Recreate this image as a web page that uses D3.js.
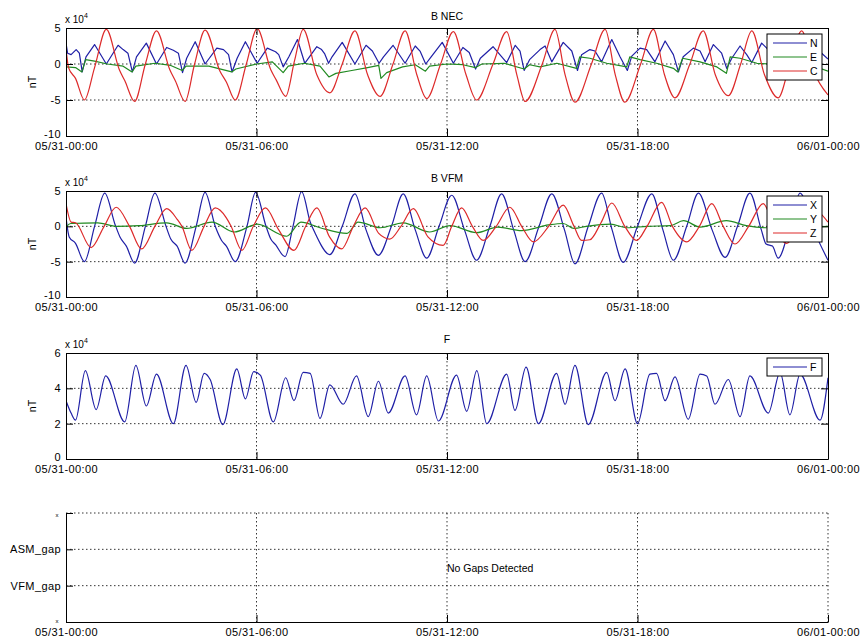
<!DOCTYPE html>
<html lang="en">
<head>
<meta charset="UTF-8">
<title>B NEC / B VFM / F</title>
<style>
    body { margin: 0; background: #fff; }
    svg { font-family: "Liberation Sans", Arial, sans-serif; }
    .tick text { font-size: 11px; letter-spacing: 0.4px; fill: #000; }
    .tick line, .domain { stroke: #000; stroke-width: 1; }
    .grid { stroke: #000; stroke-width: 0.8; stroke-dasharray: 1.5, 2.5; fill: none; }
    .series { fill: none; stroke-width: 1.2; stroke-linejoin: round; }
    .title, .note, .legend text { font-size: 10.5px; fill: #000; }
</style>
</head>
<body>
<svg id="chart" width="864" height="639"></svg>
<script src="https://d3js.org/d3.v7.min.js"></script>
<script>
// time axis (hours from 05/31-00:00)
const xTicks = [0, 6, 12, 18, 24];
const xTickLabels = ["05/31-00:00", "05/31-06:00", "05/31-12:00", "05/31-18:00", "06/01-00:00"];

// values in units of 10^4 nT, [hour, value]
const necN = [[0,2.9],[0.05,1.5],[0.16,1.3],[0.32,2.0],[0.42,1.5],[0.51,-1.1],[0.63,1.0],[0.9,2.7],[1.27,0],[1.64,2.6],[1.8,2.0],[1.95,1.5],[2.09,-1.1],[2.22,1.0],[2.53,2.9],[2.85,0],[3.17,2.3],[3.38,1.9],[3.54,1.5],[3.67,-1.2],[3.8,0.8],[4.07,3.1],[4.38,0],[4.75,2.2],[4.96,2.0],[5.12,1.3],[5.23,-1.1],[5.39,0.8],[5.65,3.1],[6.02,0.1],[6.34,2.2],[6.6,1.7],[6.7,1.3],[6.84,-0.4],[7.02,1.0],[7.29,3.4],[7.52,0.1],[7.9,2.4],[8.05,2.0],[8.15,1.4],[8.27,0.1],[8.38,1.0],[8.7,3.0],[9.1,0],[9.45,2.6],[9.65,1.8],[9.86,0.1],[10.0,1.0],[10.3,2.6],[10.68,0.1],[11.0,2.5],[11.15,1.8],[11.33,0],[11.5,1.0],[11.85,3.0],[12.2,0.1],[12.5,2.3],[12.7,1.6],[12.9,-0.7],[13.05,0.8],[13.45,2.4],[13.88,0.2],[14.15,2.6],[14.3,1.8],[14.43,-0.9],[14.6,0.6],[14.93,2.0],[15.09,2.5],[15.3,0.3],[15.66,3.0],[15.93,1.8],[16.11,-0.9],[16.24,1.3],[16.5,2.0],[16.66,1.8],[16.87,0.3],[17.19,3.4],[17.45,1.0],[17.68,-0.9],[17.82,1.1],[18.08,2.2],[18.29,2.0],[18.55,0.3],[18.87,3.2],[19.13,1.3],[19.29,-1.1],[19.44,1.0],[19.76,2.2],[19.97,1.8],[20.13,0.3],[20.39,2.7],[20.65,1.5],[20.81,-0.6],[20.97,0.8],[21.23,2.5],[21.44,1.3],[21.6,0.2],[21.91,2.9],[22.07,2.2],[22.3,1.0],[22.45,-0.6],[22.6,0.8],[22.85,2.4],[23.17,0.2],[23.5,2.6],[23.8,1.5],[24,0.7]];
const necE = [[0,-0.4],[0.3,-0.5],[0.5,-1.1],[0.62,0.6],[0.9,0.4],[1.3,0],[1.8,-0.3],[2.08,-1.1],[2.2,-0.3],[2.8,0.1],[3.3,-0.2],[3.66,-0.9],[3.78,-0.3],[4.5,-0.3],[5.22,-1.1],[5.35,-0.7],[6.0,0],[6.5,0.3],[6.84,-1.2],[7.0,-0.3],[7.5,0.1],[8.0,-0.3],[8.28,-1.8],[8.5,-1.3],[9.0,-0.9],[9.5,-0.5],[9.85,-0.2],[9.92,-2.0],[10.1,-1.2],[10.6,-0.4],[11.0,-0.1],[11.32,-1.0],[11.45,-0.3],[12.0,0],[12.5,-0.1],[12.9,-0.5],[13.1,0],[13.8,0.1],[14.43,-0.7],[14.6,-0.1],[14.93,-0.4],[15.46,0.1],[16.08,-0.6],[16.18,1.0],[16.5,0.8],[17.03,0.1],[17.66,-0.4],[17.76,1.0],[18.08,0.6],[18.6,0.1],[19.13,-0.6],[19.27,-1.1],[19.42,0.8],[19.97,0.3],[20.5,-0.4],[20.8,-1.3],[20.92,1.0],[21.23,0.8],[21.76,0.1],[22.2,0],[22.5,-0.5],[23.0,0.2],[23.5,-0.2],[24,-1.0]];
const necC = [[0,2.2],[0.08,-0.5],[0.3,-2.0],[0.58,-5.0],[0.9,-0.5],[1.27,4.8],[1.68,-0.8],[1.85,-2.3],[2.16,-5.2],[2.5,0],[2.85,4.6],[3.27,-0.8],[3.45,-2.4],[3.75,-5.2],[4.05,0],[4.38,4.7],[4.85,-1.0],[5.05,-2.5],[5.33,-5.0],[5.68,0],[6.02,4.9],[6.45,-0.8],[6.62,-2.2],[6.92,-4.5],[7.2,0.5],[7.47,4.8],[7.9,-1.5],[8.31,-4.0],[8.7,0],[9.1,4.6],[9.5,-1.5],[9.89,-4.5],[10.3,0],[10.68,4.6],[11.05,-1.5],[11.36,-4.8],[11.8,0],[12.2,4.5],[12.6,-1.5],[12.93,-5.0],[13.45,0],[13.88,4.5],[14.2,-1.5],[14.46,-5.2],[15.0,0],[15.4,4.8],[15.72,-1.5],[16.03,-5.3],[16.55,0],[16.98,4.8],[17.3,-1.5],[17.6,-5.3],[18.1,0],[18.5,4.8],[18.85,-1.5],[19.18,-4.7],[19.65,0],[20.07,4.6],[20.45,-1.5],[20.86,-4.4],[21.25,0],[21.6,4.6],[22.0,-1.5],[22.43,-4.7],[22.8,0],[23.17,4.6],[23.55,-1.0],[24,-4.3]];

const vfmX = [[0,1.3],[0.1,-1.5],[0.3,-2.4],[0.58,-5.0],[0.9,0],[1.22,4.7],[1.55,0.2],[1.7,-1.5],[1.9,-2.8],[2.16,-5.2],[2.5,0],[2.8,4.7],[3.15,0],[3.3,-1.8],[3.5,-2.8],[3.75,-5.2],[4.1,0],[4.38,4.8],[4.7,0],[4.9,-2.0],[5.05,-2.8],[5.33,-5.0],[5.7,0],[5.97,4.8],[6.3,0],[6.45,-1.8],[6.6,-2.6],[6.9,-4.3],[7.15,0],[7.42,4.9],[7.7,0.5],[7.85,-1.0],[8.31,-4.0],[8.7,0],[9.1,4.6],[9.45,-0.5],[9.84,-4.1],[10.25,0],[10.62,4.6],[11.0,-0.5],[11.36,-4.5],[11.75,0],[12.15,4.4],[12.55,-0.5],[12.93,-4.8],[13.35,0],[13.72,4.6],[14.1,-0.5],[14.46,-5.0],[14.9,0],[15.3,4.6],[15.7,-0.5],[16.03,-5.3],[16.45,0],[16.87,4.7],[17.2,-0.5],[17.55,-5.1],[18.0,0],[18.45,4.6],[18.8,-0.5],[19.13,-4.8],[19.55,0],[19.92,4.7],[20.35,-0.5],[20.76,-4.4],[21.15,0],[21.54,4.7],[21.9,-0.5],[22.05,-2.5],[22.25,-2.8],[22.43,-4.5],[22.8,0],[23.12,4.7],[23.55,-0.5],[24,-4.8]];
const vfmY = [[0,-0.1],[0.15,0.4],[1.0,0.5],[1.6,0],[2.3,0.1],[3.17,0.5],[3.8,-0.3],[4.6,0.6],[5.3,-0.8],[6.02,0.3],[6.95,-1.4],[7.4,0.6],[8.0,-0.2],[8.85,-1.0],[9.2,0.6],[9.9,-0.2],[10.62,0.5],[11.45,-0.8],[12.1,0.1],[12.93,-0.9],[13.6,-0.1],[14.35,-0.6],[15.2,0.2],[15.66,0.4],[16.0,-0.3],[16.4,0],[17.15,0.3],[17.67,-0.2],[18.3,0],[19.03,0.1],[19.45,0.8],[19.97,-0.1],[20.8,0.8],[21.43,0.1],[22.06,-0.2],[22.8,0.3],[23.5,-0.1],[24,0]];
const vfmZ = [[0,3.2],[0.16,0.6],[0.3,0.5],[0.79,-3.0],[1.2,0],[1.58,2.7],[2.0,0],[2.38,-3.2],[2.8,0],[3.17,2.5],[3.5,1.0],[3.65,0],[3.96,-3.4],[4.35,0],[4.7,2.6],[5.05,1.2],[5.2,0],[5.54,-3.4],[5.9,0],[6.28,2.6],[6.7,-0.5],[7.18,-3.4],[7.55,0],[7.9,2.6],[8.3,-1.5],[8.68,-3.2],[9.05,0],[9.42,2.6],[9.85,-1.0],[10.2,-1.8],[10.55,0],[10.94,2.5],[11.4,-1.5],[11.88,-2.7],[12.15,0],[12.46,2.6],[12.8,0],[13.14,-2.0],[13.55,0],[13.98,2.7],[14.35,0],[14.72,-2.2],[15.2,0],[15.66,3.0],[16.0,0],[16.24,-2.0],[16.5,-1.9],[16.85,0.5],[17.19,3.3],[17.6,0],[17.97,-2.0],[18.3,0],[18.76,3.4],[19.1,0],[19.55,-2.2],[19.95,0],[20.34,3.2],[20.7,0],[21.07,-2.5],[21.5,0],[21.96,3.2],[22.3,0],[22.7,-2.4],[23.1,0],[23.5,2.5],[24,0.6]];

const fTotal = [[0,3.3],[0.16,2.6],[0.3,2.2],[0.61,5.0],[0.95,2.8],[1.25,4.7],[1.85,2.1],[2.2,5.3],[2.53,3.0],[2.85,4.8],[3.38,2.0],[3.78,5.3],[4.1,3.2],[4.35,4.85],[4.54,4.5],[4.94,1.95],[5.38,5.1],[5.65,3.4],[5.91,4.95],[6.12,4.75],[6.53,2.1],[6.92,4.6],[7.18,3.3],[7.47,4.9],[7.69,4.85],[8.0,2.3],[8.31,4.2],[8.73,3.1],[9.15,4.7],[9.52,2.4],[9.84,4.4],[10.15,2.6],[10.68,4.7],[11.04,2.5],[11.36,4.7],[11.73,2.15],[12.3,4.75],[12.62,2.7],[12.94,5.0],[13.25,2.0],[13.88,4.8],[14.14,2.75],[14.49,5.2],[14.88,2.0],[15.45,4.85],[15.72,3.1],[16.03,5.3],[16.45,1.95],[17.03,4.9],[17.29,3.3],[17.61,5.1],[18.0,2.0],[18.39,4.8],[18.6,4.85],[18.87,3.3],[19.18,4.65],[19.6,2.25],[19.97,4.8],[20.18,4.7],[20.44,3.1],[20.86,4.5],[21.23,2.4],[21.54,4.7],[22.12,2.6],[22.49,4.9],[22.8,2.5],[23.12,4.8],[23.75,2.2],[24,4.6]];

const gapLabels = ["x", "VFM_gap", "ASM_gap", "x"];

const blue = "#1f1fa6", green = "#218a21", red = "#dd2a2a";
const left = 66, right = 828;
const svg = d3.select("#chart");
const x = d3.scaleLinear().domain([0, 24]).range([left, right]);

const panels = [
    { top: 28, bottom: 136, domain: [-10, 5], ticks: [-10, -5, 0, 5], grid: [-5, 0], title: "B NEC", titleY: 20,
      series: [{ name: "N", data: necN, color: blue, curve: d3.curveLinear },
               { name: "E", data: necE, color: green, curve: d3.curveLinear },
               { name: "C", data: necC, color: red, curve: d3.curveMonotoneX }],
      legend: { x: 767, y: 34, w: 55, h: 46 } },
    { top: 191, bottom: 297, domain: [-10, 5], ticks: [-10, -5, 0, 5], grid: [-5, 0], title: "B VFM", titleY: 182,
      series: [{ name: "X", data: vfmX, color: blue, curve: d3.curveMonotoneX },
               { name: "Y", data: vfmY, color: green, curve: d3.curveMonotoneX },
               { name: "Z", data: vfmZ, color: red, curve: d3.curveMonotoneX }],
      legend: { x: 767, y: 196, w: 55, h: 46 } },
    { top: 353, bottom: 459, domain: [0, 6], ticks: [0, 2, 4, 6], grid: [2, 4], title: "F", titleY: 343,
      series: [{ name: "F", data: fTotal, color: blue, curve: d3.curveMonotoneX }],
      legend: { x: 767, y: 358, w: 55, h: 18 } }
];

function xAxisBottom(g, bottom) {
    g.append("g").attr("transform", `translate(0,${bottom})`)
        .call(d3.axisBottom(x).tickValues(xTicks).tickSizeInner(-7).tickSizeOuter(0).tickPadding(6)
            .tickFormat((d, i) => xTickLabels[i]));
}

panels.forEach((p, pi) => {
    const y = d3.scaleLinear().domain(p.domain).range([p.bottom, p.top]);
    const g = svg.append("g");

    g.selectAll(null).data(p.grid).enter().append("line").attr("class", "grid")
        .attr("x1", left).attr("x2", right).attr("y1", d => y(d)).attr("y2", d => y(d));
    g.selectAll(null).data([6, 12, 18]).enter().append("line").attr("class", "grid")
        .attr("x1", d => x(d)).attr("x2", d => x(d)).attr("y1", p.top).attr("y2", p.bottom);

    g.append("clipPath").attr("id", "clip" + pi).append("rect")
        .attr("x", left).attr("y", p.top).attr("width", right - left).attr("height", p.bottom - p.top);

    p.series.forEach(s => {
        const line = d3.line().x(d => x(d[0])).y(d => y(d[1])).curve(s.curve);
        g.append("path").attr("class", "series").attr("clip-path", `url(#clip${pi})`)
            .attr("stroke", s.color).attr("d", line(s.data));
    });

    // box with inward ticks on all sides
    xAxisBottom(g, p.bottom);
    g.append("g").attr("transform", `translate(0,${p.top})`)
        .call(d3.axisTop(x).tickValues(xTicks).tickSizeInner(-7).tickSizeOuter(0).tickFormat(""));
    const yAx = g.append("g").attr("transform", `translate(${left},0)`)
        .call(d3.axisLeft(y).tickValues(p.ticks).tickSizeInner(-7).tickSizeOuter(0).tickPadding(5)
            .tickFormat(d => String(d)));
    yAx.selectAll(".tick text").filter(d => d === p.domain[0]).attr("dy", "0.1em");
    g.append("g").attr("transform", `translate(${right},0)`)
        .call(d3.axisRight(y).tickValues(p.ticks).tickSizeInner(-7).tickSizeOuter(0).tickFormat(""));

    const ex = g.append("text").attr("x", left - 1).attr("y", p.top - 5).style("font-size", "10px").text("x 10");
    ex.append("tspan").attr("dy", -5).style("font-size", "7px").text("4");

    g.append("text").attr("transform", `translate(36,${(p.top + p.bottom) / 2}) rotate(-90)`)
        .attr("text-anchor", "middle").style("font-size", "10.5px").text("nT");

    g.append("text").attr("class", "title").attr("x", (left + right) / 2).attr("y", p.titleY)
        .attr("text-anchor", "middle").text(p.title);

    const L = p.legend;
    const lg = g.append("g").attr("class", "legend");
    lg.append("rect").attr("x", L.x).attr("y", L.y).attr("width", L.w).attr("height", L.h)
        .attr("fill", "#fff").attr("stroke", "#000").attr("stroke-width", 1);
    p.series.forEach((s, i) => {
        const ly = L.y + 9 + i * 14;
        lg.append("line").attr("x1", L.x + 6).attr("x2", L.x + 40).attr("y1", ly).attr("y2", ly)
            .attr("stroke", s.color).attr("stroke-width", 1.2);
        lg.append("text").attr("x", L.x + 43).attr("y", ly + 3.8).text(s.name);
    });
});

// gap panel
const gTop = 513, gBottom = 622;
const yg = d3.scaleLinear().domain([0, 3]).range([gBottom, gTop]);
const g4 = svg.append("g");
g4.selectAll(null).data([1, 2, 3]).enter().append("line").attr("class", "grid")
    .attr("x1", left).attr("x2", right).attr("y1", d => yg(d)).attr("y2", d => yg(d));
g4.selectAll(null).data([6, 12, 18, 24]).enter().append("line").attr("class", "grid")
    .attr("x1", d => x(d)).attr("x2", d => x(d)).attr("y1", gTop).attr("y2", gBottom);
xAxisBottom(g4, gBottom);
const yAx4 = g4.append("g").attr("transform", `translate(${left},0)`)
    .call(d3.axisLeft(yg).tickValues([0, 1, 2, 3]).tickSizeInner(-7).tickSizeOuter(0).tickPadding(5)
        .tickFormat((d, i) => gapLabels[i]));
yAx4.selectAll(".tick text").filter(d => d === 0 || d === 3)
    .style("font-size", "6px").attr("x", -7).attr("dy", d => d === 3 ? "0.6em" : "0.1em");
g4.append("text").attr("class", "note").attr("x", (left + right) / 2).attr("y", 572).text("No Gaps Detected");
</script>
</body>
</html>
